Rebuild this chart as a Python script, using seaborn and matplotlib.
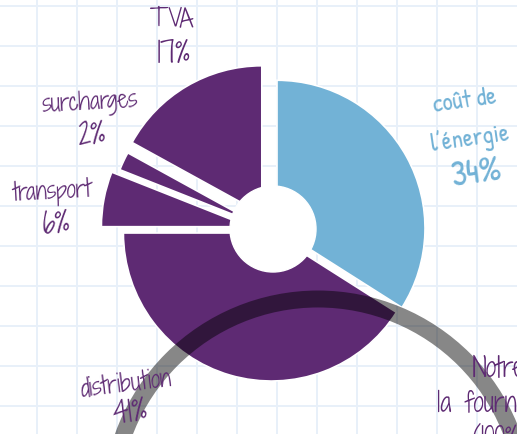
import numpy as np
import matplotlib
matplotlib.use("Agg")
import matplotlib.pyplot as plt
import seaborn as sns
from matplotlib.patches import Circle

# ================= DONNÉES =================
postes = ["coût de\nl’énergie", "distribution", "transport", "surcharges", "TVA"]
parts = [34, 41, 6, 2, 17]

# ================= STYLE =================
W, H = 517, 435
VIOLET = "#5e2a73"
BLEU = "#72b2d6"
couleurs = [BLEU, VIOLET, VIOLET, VIOLET, VIOLET]
# écartement des parts, en pixels (pie() l'applique en unités de données)
explode = [5.7, 2.1, 23, 16, 20]
CENTRE = (272, H - 232)
RAYON = 148
MAIN = ["Shadows Into Light Two", "DejaVu Sans"]
MAIN_BLEU = ["Patrick Hand", "DejaVu Sans"]

sns.set_style("white")
plt.rcParams["font.family"] = MAIN

fig = plt.figure(figsize=(W / 100, H / 100), dpi=100)
ax = fig.add_axes([0, 0, 1, 1])

ax.pie(parts, explode=explode, colors=couleurs, startangle=90, counterclock=False,
       center=CENTRE, radius=RAYON,
       wedgeprops=dict(edgecolor="white", linewidth=1.2))

# papier quadrillé
ax.set_xlim(0, W)
ax.set_ylim(0, H)
ax.set_aspect("equal")
ax.set_xticks(np.arange(37, W, 40))
ax.set_yticks(H - np.arange(7, H, 40))
ax.grid(True, color="#e8f0f9", linewidth=1.4)
ax.set_axisbelow(True)
ax.tick_params(length=0, labelbottom=False, labelleft=False)
for s in ax.spines.values():
    s.set_visible(False)

# trou du donut
ax.add_patch(Circle((273, H - 230), 43, color="white", zorder=2))
# anneau gris (fourniture)
ax.add_patch(Circle((318, H - 507), 207, fill=False, linewidth=12.2,
                    edgecolor="black", alpha=0.47, zorder=3))

# étiquettes : (x, y, rotation) en pixels
pos = {
    "TVA": [(171, 21, 0), (173, 56, 0)],
    "surcharges": [(90, 104, 3), (92, 137, 3)],
    "transport": [(52, 192, 3), (56, 226, 3)],
    "distribution": [(126, 385, 7), (130, 415, 7)],
}
for nom, p in zip(postes, parts):
    if nom in pos:
        (x1, y1, r1), (x2, y2, r2) = pos[nom]
        ax.text(x1, H - y1, nom, color=VIOLET, fontsize=17, ha="center", va="center",
                rotation=r1, zorder=4)
        ax.text(x2, H - y2, f"{p}%", color=VIOLET, fontsize=21, ha="center", va="center",
                rotation=r2, zorder=4)

l1, l2 = postes[0].split("\n")
for txt, x, y, fs in [(l1, 465, 103, 18), (l2, 470, 140, 18), (f"{parts[0]}%", 477, 175, 25)]:
    ax.text(x, H - y, txt, color=BLEU, fontsize=fs, ha="center", va="center",
            rotation=8, family=MAIN_BLEU, zorder=4)

ax.text(499, H - 370, "Notre", color=VIOLET, fontsize=19, ha="center", va="center", zorder=4)
ax.text(499, H - 405, "la fourniture", color=VIOLET, fontsize=19, ha="center", va="center", zorder=4)
ax.text(499, H - 440, "(100%)", color=VIOLET, fontsize=19, ha="center", va="center", zorder=4)

fig.savefig("out.png", dpi=100)
